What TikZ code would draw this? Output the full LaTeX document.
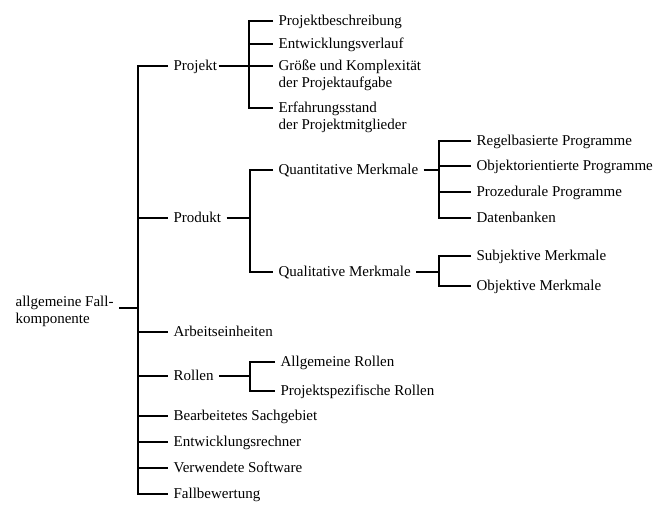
\documentclass[tikz,border=0pt]{standalone}
\usepackage{fontspec}
\setmainfont{Liberation Serif}
\newcommand{\twoline}[2]{\begin{tabular}[t]{@{}l@{}}#1\\#2\end{tabular}}

\begin{document}
\begin{tikzpicture}[x=1pt, y=-1pt, line width=1.2pt,
    every node/.style={anchor=west, inner xsep=5pt, inner ysep=0pt,
      text height=10.5pt, text depth=1pt, font=\fontsize{15}{17}\selectfont}]
    \useasboundingbox (0,0) rectangle (660,511);
    % branch columns
    \coordinate (trunk) at (138,0);
    \coordinate (pjbar) at (249,0);
    \coordinate (pdbar) at (250,0);
    \coordinate (qnbar) at (439,0);
    \coordinate (rlbar) at (250,0);

    \node (root) at (10,302) {\twoline{allgemeine Fall-}{komponente}};

    \node (projekt) at (168,66) {Projekt};
    \node (produkt) at (168,218) {Produkt};
    \node (arbeit) at (168,332) {Arbeitseinheiten};
    \node (rollen) at (168,376) {Rollen};
    \node (sachgeb) at (168,416) {Bearbeitetes Sachgebiet};
    \node (rechner) at (168,442) {Entwicklungsrechner};
    \node (software) at (168,468) {Verwendete Software};
    \node (bewert) at (168,494) {Fallbewertung};

    \node (beschr) at (273,21) {Projektbeschreibung};
    \node (verlauf) at (273,44) {Entwicklungsverlauf};
    \node (groesse) at (273,66) {\twoline{Größe und Komplexität}{der Projektaufgabe}};
    \node (erfahr) at (273,108) {\twoline{Erfahrungsstand}{der Projektmitglieder}};

    \node (quanti) at (273,170) {Quantitative Merkmale};
    \node (quali) at (273,272) {Qualitative Merkmale};

    \node (regel) at (471,141) {Regelbasierte Programme};
    \node (objor) at (471,166) {Objektorientierte Programme};
    \node (prozed) at (471,192) {Prozedurale Programme};
    \node (datenb) at (471,218) {Datenbanken};
    \node (subj) at (471,256) {Subjektive Merkmale};
    \node (objv) at (471,286) {Objektive Merkmale};

    \node (allgr) at (275,362) {Allgemeine Rollen};
    \node (spezr) at (275,391) {Projektspezifische Rollen};

    % trunk
    \draw ([yshift=-6pt]root.east) -- ([yshift=-6pt]trunk |- root.east);
    \draw (projekt.west) -| (trunk |- bewert.west) -- (bewert.west);
    \draw (trunk |- produkt.west) -- (produkt.west);
    \draw (trunk |- arbeit.west) -- (arbeit.west);
    \draw (trunk |- rollen.west) -- (rollen.west);
    \draw (trunk |- sachgeb.west) -- (sachgeb.west);
    \draw (trunk |- rechner.west) -- (rechner.west);
    \draw (trunk |- software.west) -- (software.west);

    % Projekt
    \draw ([xshift=-4pt]projekt.east) -- (groesse.west);
    \draw (beschr.west) -| (pjbar |- erfahr.west) -- (erfahr.west);
    \draw (pjbar |- verlauf.west) -- (verlauf.west);

    % Produkt
    \draw (produkt.east) -- (pdbar |- produkt.east);
    \draw (quanti.west) -| (pdbar |- quali.west) -- (quali.west);
    \draw (quanti.east) -- (qnbar |- quanti.east);
    \draw (regel.west) -| (qnbar |- datenb.west) -- (datenb.west);
    \draw (qnbar |- objor.west) -- (objor.west);
    \draw (qnbar |- prozed.west) -- (prozed.west);
    \draw (quali.east) -- (qnbar |- quali.east);
    \draw (subj.west) -| (qnbar |- objv.west) -- (objv.west);

    % Rollen
    \draw (rollen.east) -- (rlbar |- rollen.east);
    \draw (allgr.west) -| (rlbar |- spezr.west) -- (spezr.west);
\end{tikzpicture}
\end{document}
